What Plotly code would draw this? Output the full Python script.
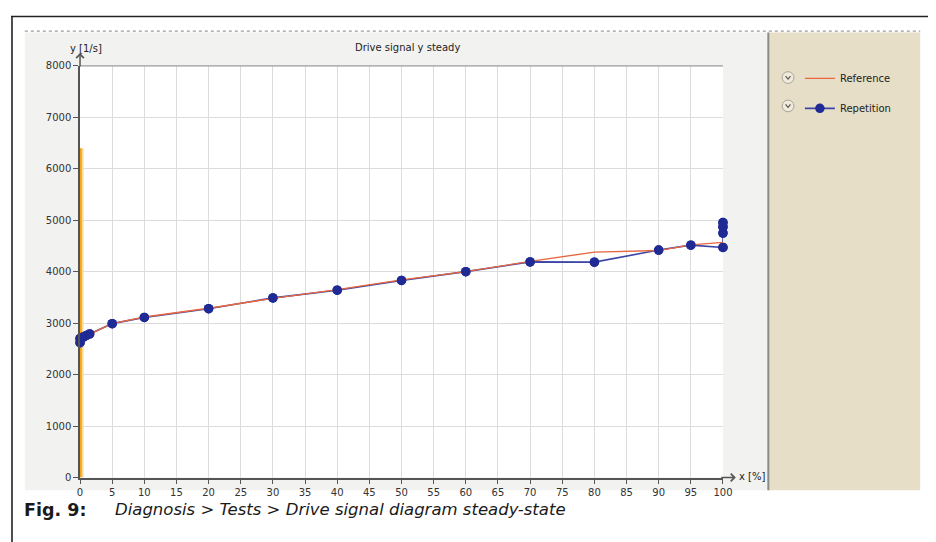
import plotly.graph_objects as go

# ---------------- data ----------------
rep_x = [0, 0, 0.5, 1, 1.5, 5, 10, 20, 30, 40, 50, 60, 70, 80, 90, 95, 100, 100, 100, 100]
rep_y = [2620, 2700, 2730, 2760, 2790, 2990, 3110, 3280, 3490, 3640, 3830, 4000, 4190, 4185,
         4420, 4515, 4470, 4750, 4870, 4955]
ref_x = [0, 0, 0.5, 1, 1.5, 5, 10, 20, 30, 40, 50, 60, 70, 80, 90, 95, 100]
ref_y = [2620, 2700, 2730, 2760, 2790, 2990, 3120, 3290, 3480, 3650, 3840, 4000, 4200, 4380,
         4410, 4520, 4570]
bar_x = [0, 0]
bar_y = [0, 6400]
x_ticks = list(range(0, 101, 5))
y_ticks = list(range(0, 8001, 1000))

W, H = 936, 542
OFF = 8  # the page body margin shifts the figure by 8 px; positions below are page pixels
def px(x):
    return (x - OFF) / W
def py(y):
    return 1 - (y - OFF) / H

X0, X1 = 78, 730   # plot area, page pixels
Y0, Y1 = 61, 482

FONT = "DejaVu Sans"
fig = go.Figure()

fig.add_trace(go.Scatter(x=bar_x, y=bar_y, mode="lines", line=dict(color="#fcd79a", width=7),
                         showlegend=False, hoverinfo="skip", cliponaxis=False))
fig.add_trace(go.Scatter(x=bar_x, y=bar_y, mode="lines", line=dict(color="#f4a518", width=3.5),
                         showlegend=False, hoverinfo="skip", cliponaxis=False))

fig.add_trace(go.Scatter(x=rep_x, y=rep_y, mode="lines+markers", name="Repetition",
                         line=dict(color="#3c46a6", width=1.6),
                         marker=dict(color="#1f2a94", size=9.5), legendgroup="rep",
                         legendrank=2, cliponaxis=False))
fig.add_trace(go.Scatter(x=ref_x, y=ref_y, mode="lines", name="Reference",
                         line=dict(color="#e8673f", width=1.4), legendgroup="ref",
                         legendrank=1, cliponaxis=False))
fig.add_trace(go.Scatter(x=rep_x, y=rep_y, mode="markers", showlegend=False, legendgroup="rep",
                         marker=dict(color="#1f2a94", size=9.5), cliponaxis=False))

shapes = [
    dict(type="rect", xref="paper", yref="paper", x0=px(22), x1=px(776), y0=py(495), y1=py(27),
         fillcolor="#f2f2f0", line=dict(width=0), layer="below"),
    dict(type="rect", xref="paper", yref="paper", x0=px(776), x1=px(930), y0=py(495), y1=py(27),
         fillcolor="#e6dec7", line=dict(width=0), layer="below"),
    dict(type="rect", xref="paper", yref="paper", x0=px(X0), x1=px(X1), y0=py(Y1), y1=py(Y0),
         fillcolor="white", line=dict(width=0), layer="below"),
    dict(type="line", xref="paper", yref="paper", x0=px(776), x1=px(776), y0=py(495), y1=py(27),
         line=dict(color="#8c8a84", width=2)),
    dict(type="line", xref="paper", yref="paper", x0=px(22), x1=px(930), y0=py(25.5), y1=py(25.5),
         line=dict(color="#9a9a9a", width=1.2, dash="dot")),
    dict(type="line", xref="paper", yref="paper", x0=px(8), x1=1, y0=py(10.5), y1=py(10.5),
         line=dict(color="#222", width=1.6)),
    dict(type="line", xref="paper", yref="paper", x0=px(9), x1=px(9), y0=0, y1=py(10.5),
         line=dict(color="#222", width=1.6)),
    dict(type="line", xref="paper", yref="paper", x0=px(X0), x1=px(X1), y0=py(Y0), y1=py(Y0),
         line=dict(color="#9a9a9a", width=1.2)),
]

for cy in (73, 102):
    shapes.append(dict(type="circle", xref="paper", yref="paper",
                       x0=px(790), x1=px(802), y0=py(cy + 6), y1=py(cy - 6),
                       line=dict(color="#a8a49a", width=1), fillcolor="#efeadb"))
    shapes.append(dict(type="path", xref="paper", yref="paper",
                       path=f"M {px(793.5)} {py(cy - 1.5)} L {px(796)} {py(cy + 1.5)} L {px(798.5)} {py(cy - 1.5)}",
                       line=dict(color="#555", width=1.2)))

annotations = [
    dict(text="Drive signal y steady", x=px(410), y=py(42), xref="paper", yref="paper",
         yanchor="middle", showarrow=False, font=dict(family=FONT, size=10, color="#222")),
    dict(text="y [1/s]", x=px(66), y=py(43), xref="paper", yref="paper", yanchor="middle",
         showarrow=False, font=dict(family=FONT, size=10, color="#222")),
    dict(text="x [%]", x=px(744), y=py(481), xref="paper", yref="paper", xanchor="left",
         yanchor="middle", showarrow=False, font=dict(family=FONT, size=10, color="#222")),
    dict(x=px(X0), y=py(Y0 - 13), ax=0, ay=15, xref="paper", yref="paper", axref="pixel", ayref="pixel",
         showarrow=True, arrowhead=4, arrowsize=1, arrowwidth=1.5, arrowcolor="#555", text=""),
    dict(x=px(X1 + 13), y=py(Y1), ax=-16, ay=0, xref="paper", yref="paper", axref="pixel", ayref="pixel",
         showarrow=True, arrowhead=4, arrowsize=1, arrowwidth=1.5, arrowcolor="#555", text=""),
    dict(text="<b>Fig. 9:</b>", x=px(19), y=py(515), xref="paper", yref="paper", xanchor="left",
         yanchor="middle", showarrow=False, font=dict(family=FONT, size=17.5, color="#1a1a1a")),
    dict(text="<i>Diagnosis > Tests > Drive signal diagram steady-state</i>", x=px(111), y=py(515),
         xref="paper", yref="paper", xanchor="left", yanchor="middle",
         showarrow=False, font=dict(family=FONT, size=16.5, color="#1a1a1a")),
]

fig.update_layout(
    width=W, height=H,
    margin=dict(l=0, r=0, t=0, b=0),
    paper_bgcolor="white",
    plot_bgcolor="white",
    shapes=shapes,
    annotations=annotations,
    showlegend=True,
    legend=dict(x=px(808), y=py(59), xanchor="left", yanchor="top",
                bgcolor="rgba(0,0,0,0)", font=dict(family=FONT, size=10, color="#222"),
                tracegroupgap=11, traceorder="grouped"),
    xaxis=dict(domain=[px(X0), px(X1)], range=[0, 100], tickvals=x_ticks,
               showgrid=True, gridcolor="#dcdcdc", gridwidth=1,
               showline=True, linecolor="#555", linewidth=1.5,
               ticks="outside", ticklen=5, tickcolor="#555",
               tickfont=dict(family=FONT, size=10, color="#333"), zeroline=False, fixedrange=True),
    yaxis=dict(domain=[py(Y1), py(Y0)], range=[0, 8000], tickvals=y_ticks,
               showgrid=True, gridcolor="#dcdcdc", gridwidth=1,
               showline=True, linecolor="#555", linewidth=1.5,
               ticks="outside", ticklen=5, tickcolor="#555",
               tickfont=dict(family=FONT, size=10, color="#333"), zeroline=False, fixedrange=True),
)

fig.write_html("out.html")
